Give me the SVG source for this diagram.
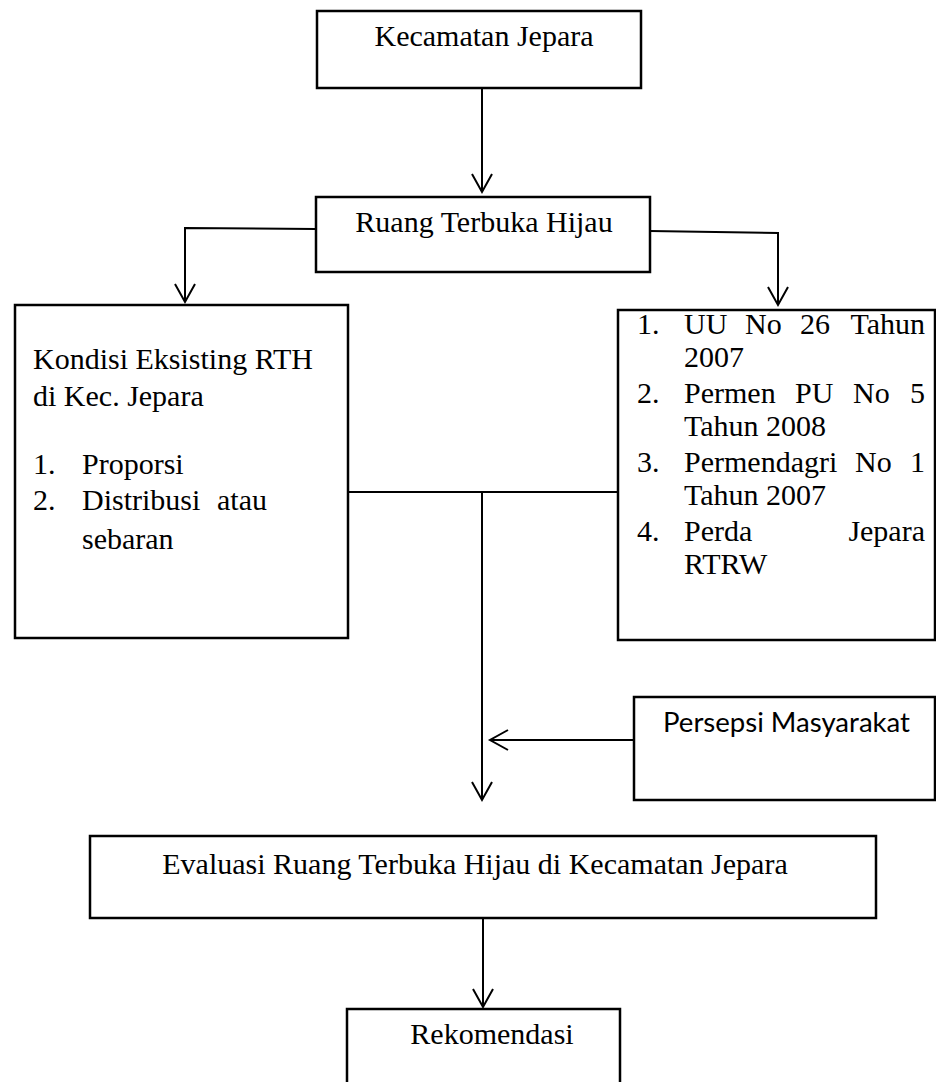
<svg xmlns="http://www.w3.org/2000/svg" width="936" height="1082" viewBox="0 0 936 1082">
<style>
.box{fill:#fff;stroke:#000;stroke-width:2.5}
.t{font-family:"Liberation Serif",serif;font-size:30px;fill:#000}
.m{text-anchor:middle}
.e{text-anchor:end}
.s{font-family:Lato,"Open Sans",sans-serif;font-size:26px;fill:#000}
.c{fill:none;stroke:#000;stroke-width:2}
</style>
<defs>
<marker id="ah" markerUnits="userSpaceOnUse" viewBox="-20 -12 22 24" refX="0" refY="0" markerWidth="22" markerHeight="24" orient="auto" overflow="visible">
<path d="M-18,-10 L0,0 L-18,10" fill="none" stroke="#000" stroke-width="2"/>
</marker>
</defs>
<rect width="936" height="1082" fill="#fff"/>
<g id="connectors">
<path class="c" d="M482,88 V192" marker-end="url(#ah)"/>
<path class="c" d="M316,229 L185,228 V302" marker-end="url(#ah)"/>
<path class="c" d="M650,231 L778,233 V305" marker-end="url(#ah)"/>
<path class="c" d="M348,492 H618"/>
<path class="c" d="M482,492 V800" marker-end="url(#ah)"/>
<path class="c" d="M634,740 H490" marker-end="url(#ah)"/>
<path class="c" d="M483,918 V1007" marker-end="url(#ah)"/>
</g>
<g id="kecamatan">
<rect class="box" x="317" y="11" width="324" height="77"/>
<text class="t m" x="484" y="46">Kecamatan Jepara</text>
</g>
<g id="rth">
<rect class="box" x="316" y="197" width="334" height="75"/>
<text class="t m" x="484" y="232">Ruang Terbuka Hijau</text>
</g>
<g id="kondisi">
<rect class="box" x="15" y="305" width="333" height="333"/>
<text class="t" x="33" y="369">Kondisi Eksisting RTH</text>
<text class="t" x="33" y="406">di Kec. Jepara</text>
<text class="t" x="33" y="474">1.</text>
<text class="t" x="82" y="474">Proporsi</text>
<text class="t" x="33" y="510">2.</text>
<text class="t" x="82" y="510">Distribusi</text>
<text class="t e" x="267" y="510">atau</text>
<text class="t" x="82" y="549">sebaran</text>
</g>
<g id="regulasi">
<rect class="box" x="618" y="310" width="317" height="330"/>
<text class="t" x="637" y="334">1.</text>
<text class="t" x="684" y="334">UU</text>
<text class="t" x="745" y="334">No</text>
<text class="t" x="800" y="334">26</text>
<text class="t e" x="925" y="334">Tahun</text>
<text class="t" x="684" y="367">2007</text>
<text class="t" x="637" y="403">2.</text>
<text class="t" x="684" y="403">Permen</text>
<text class="t" x="795" y="403">PU</text>
<text class="t" x="853" y="403">No</text>
<text class="t e" x="925" y="403">5</text>
<text class="t" x="684" y="436">Tahun 2008</text>
<text class="t" x="637" y="472">3.</text>
<text class="t" x="684" y="472">Permendagri</text>
<text class="t" x="855" y="472">No</text>
<text class="t e" x="925" y="472">1</text>
<text class="t" x="684" y="505">Tahun 2007</text>
<text class="t" x="637" y="541">4.</text>
<text class="t" x="684" y="541">Perda</text>
<text class="t e" x="925" y="541">Jepara</text>
<text class="t" x="684" y="574">RTRW</text>
</g>
<g id="persepsi">
<rect class="box" x="634" y="697" width="301" height="103"/>
<text class="s" x="663" y="732" textLength="247" lengthAdjust="spacingAndGlyphs">Persepsi Masyarakat</text>
</g>
<g id="evaluasi">
<rect class="box" x="90" y="836" width="786" height="82"/>
<text class="t m" x="475" y="874">Evaluasi Ruang Terbuka Hijau di Kecamatan Jepara</text>
</g>
<g id="rekomendasi">
<path class="box" d="M347,1090 V1009 H620 V1090"/>
<text class="t m" x="492" y="1044">Rekomendasi</text>
</g>
</svg>
